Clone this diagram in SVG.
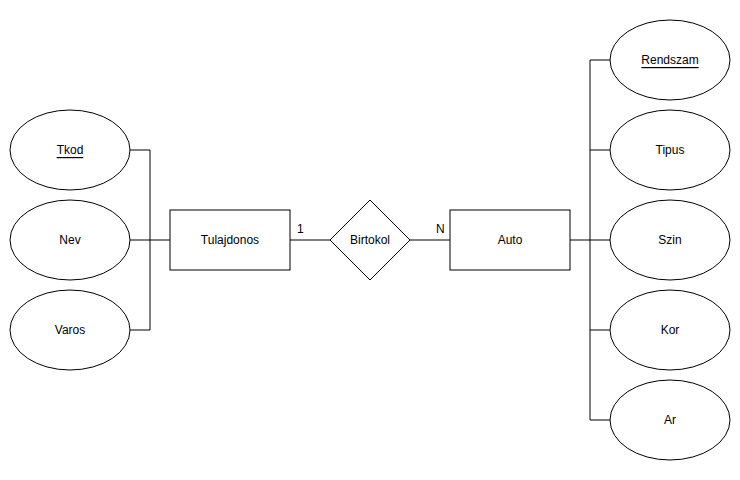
<svg xmlns="http://www.w3.org/2000/svg" width="740" height="480" viewBox="0 0 740 480">
<style>
.s{fill:#fff;stroke:#000;stroke-width:1}
.c{fill:none;stroke:#000;stroke-width:1}
text{font-family:"Liberation Sans",Arial,sans-serif;font-size:12px;fill:#000}
.m{text-anchor:middle;dominant-baseline:central}
</style>
<rect width="740" height="480" fill="#fff"/>
<g id="connectors">
<polyline class="c" points="130,150 150,150 150,240"/>
<polyline class="c" points="130,240 170,240"/>
<polyline class="c" points="130,330 150,330 150,240"/>
<polyline class="c" points="290,240 330,240"/>
<polyline class="c" points="410,240 450,240"/>
<polyline class="c" points="590,240 590,60 610,60"/>
<polyline class="c" points="590,150 610,150"/>
<polyline class="c" points="570,240 610,240"/>
<polyline class="c" points="590,240 590,330 610,330"/>
<polyline class="c" points="590,330 590,420 610,420"/>
<text x="297" y="229" dominant-baseline="central">1</text>
<text x="436" y="229" dominant-baseline="central">N</text>
</g>
<g id="tkod"><ellipse class="s" cx="70" cy="150" rx="60" ry="40"/><text x="70" y="150" class="m" text-decoration="underline">Tkod</text></g>
<g id="nev"><ellipse class="s" cx="70" cy="240" rx="60" ry="40"/><text x="70" y="240" class="m">Nev</text></g>
<g id="varos"><ellipse class="s" cx="70" cy="330" rx="60" ry="40"/><text x="70" y="330" class="m">Varos</text></g>
<g id="tulajdonos"><rect class="s" x="170" y="210" width="120" height="60"/><text x="230" y="240" class="m">Tulajdonos</text></g>
<g id="birtokol"><polygon class="s" points="370,200 410,240 370,280 330,240"/><text x="370" y="240" class="m">Birtokol</text></g>
<g id="auto"><rect class="s" x="450" y="210" width="120" height="60"/><text x="510" y="240" class="m">Auto</text></g>
<g id="rendszam"><ellipse class="s" cx="670" cy="60" rx="60" ry="40"/><text x="670" y="60" class="m" text-decoration="underline">Rendszam</text></g>
<g id="tipus"><ellipse class="s" cx="670" cy="150" rx="60" ry="40"/><text x="670" y="150" class="m">Tipus</text></g>
<g id="szin"><ellipse class="s" cx="670" cy="240" rx="60" ry="40"/><text x="670" y="240" class="m">Szin</text></g>
<g id="kor"><ellipse class="s" cx="670" cy="330" rx="60" ry="40"/><text x="670" y="330" class="m">Kor</text></g>
<g id="ar"><ellipse class="s" cx="670" cy="420" rx="60" ry="40"/><text x="670" y="420" class="m">Ar</text></g>
</svg>
